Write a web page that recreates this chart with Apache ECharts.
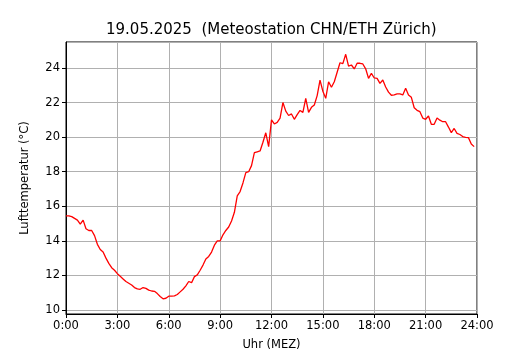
<!DOCTYPE html>
<html>
<head>
<meta charset="utf-8">
<script src="https://cdn.jsdelivr.net/npm/echarts@6/dist/echarts.min.js"></script>
<style>
  html, body { margin: 0; padding: 0; background: #fff; }
  #chart { width: 530px; height: 350px; }
</style>
</head>
<body>
<div id="chart"></div>
<script>
// 10-minute readings, 0:00 .. 23:50
const stepHours = 10 / 60;
const temps = [
    15.45, 15.45, 15.4, 15.3, 15.2, 14.97, 15.2, 14.7, 14.6, 14.6, 14.3, 13.8,
    13.5, 13.35, 13.0, 12.7, 12.45, 12.3, 12.1, 11.95, 11.8, 11.65, 11.55, 11.45,
    11.3, 11.22, 11.2, 11.3, 11.25, 11.15, 11.1, 11.08, 10.95, 10.78, 10.65, 10.68,
    10.8, 10.8, 10.82, 10.9, 11.05, 11.2, 11.4, 11.65, 11.58, 11.93, 12.03, 12.3,
    12.6, 12.95, 13.1, 13.35, 13.75, 14.0, 14.0, 14.35, 14.6, 14.8, 15.15, 15.65,
    16.6, 16.85, 17.35, 17.95, 18.0, 18.35, 19.1, 19.15, 19.2, 19.7, 20.25, 19.45,
    21.0, 20.76, 20.85, 21.1, 22.0, 21.5, 21.25, 21.34, 21.03, 21.3, 21.54, 21.43,
    22.24, 21.43, 21.72, 21.86, 22.4, 23.3, 22.65, 22.24, 23.2, 22.88, 23.2, 23.75,
    24.3, 24.25, 24.79, 24.1, 24.17, 23.94, 24.27, 24.27, 24.23, 23.95, 23.4, 23.69,
    23.42, 23.4, 23.11, 23.3, 22.9, 22.6, 22.42, 22.44, 22.5, 22.5, 22.44, 22.82,
    22.44, 22.3, 21.7, 21.55, 21.47, 21.1, 21.03, 21.22, 20.74, 20.74, 21.1, 20.98,
    20.89, 20.89, 20.58, 20.26, 20.5, 20.22, 20.15, 20.03, 19.99, 19.97, 19.6, 19.45
];
const xTickLabels = ["0:00", "3:00", "6:00", "9:00", "12:00", "15:00", "18:00", "21:00", "24:00"];

const font = "DejaVu Sans";
let chart = echarts.init(document.getElementById("chart"), null, { renderer: "canvas" });
chart.setOption({
    animation: false,
    title: {
        text: "19.05.2025  (Meteostation CHN/ETH Zürich)",
        left: 101, top: 18,
        textStyle: { fontFamily: font, fontSize: 15, fontWeight: "normal", color: "#000" }
    },
    grid: {
        left: 66, right: 53, top: 42, bottom: 36,
        outerBoundsMode: "none", containLabel: false,
        show: true, borderColor: "#000", borderWidth: 1, backgroundColor: "transparent"
    },
    xAxis: {
        type: "value", min: 0, max: 24, interval: 3,
        name: "Uhr (MEZ)", nameLocation: "middle", nameGap: 25,
        nameTextStyle: { fontFamily: font, fontSize: 11.5, color: "#000" },
        axisLine: { lineStyle: { color: "#000", width: 1 } },
        axisTick: { show: true, length: 4, lineStyle: { color: "#000" } },
        axisLabel: {
            fontFamily: font, fontSize: 11.5, color: "#000", margin: 6,
            formatter: v => xTickLabels[Math.round(v / 3)]
        },
        splitLine: { show: true, lineStyle: { color: "#b0b0b0", width: 1 } }
    },
    yAxis: {
        type: "value", min: 9.77, max: 25.5, splitNumber: 8,
        name: "Lufttemperatur (°C)", nameLocation: "middle", nameGap: 35,
        nameTextStyle: { fontFamily: font, fontSize: 11.5, color: "#000" },
        axisLine: { show: true, lineStyle: { color: "#000", width: 1 } },
        axisTick: { show: true, length: 4, lineStyle: { color: "#000" } },
        axisLabel: {
            fontFamily: font, fontSize: 11.5, color: "#000", margin: 6,
            showMinLabel: false, showMaxLabel: false
        },
        splitLine: { show: true, lineStyle: { color: "#b0b0b0", width: 1 } }
    },
    series: [{
        type: "line",
        data: temps.map((v, i) => [i * stepHours, v]),
        showSymbol: false,
        lineStyle: { color: "#ff0000", width: 1.3 },
        itemStyle: { color: "#ff0000" }
    }]
});
</script>
</body>
</html>
